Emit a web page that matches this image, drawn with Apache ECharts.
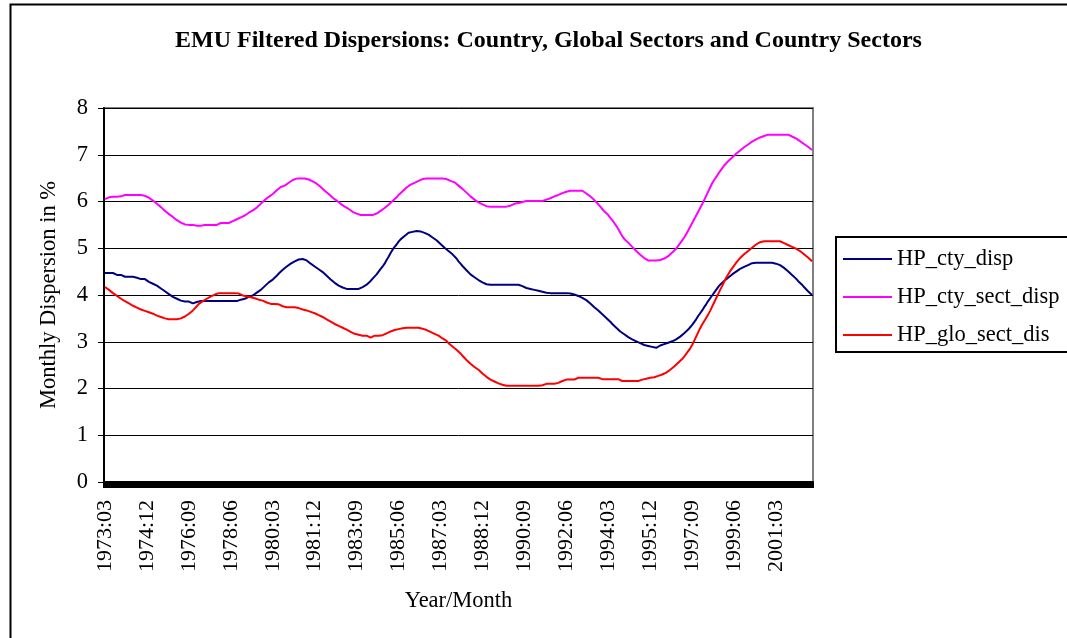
<!DOCTYPE html>
<html>
<head>
<meta charset="utf-8">
<script src="https://cdn.jsdelivr.net/npm/echarts@6/dist/echarts.min.js"></script>
<style>
  html, body { margin: 0; padding: 0; background: #fff; }
  #chart { width: 1067px; height: 638px; }
</style>
</head>
<body>
<div id="chart"></div>
<script>
// monthly categories 1973:03 .. 2002:09
const startYear = 1973;
const startMonth = 3;
const monthCount = 355;
const months = [];
for (let k = 0; k < monthCount; k++) {
  const m = startMonth - 1 + k;
  const y = startYear + Math.floor(m / 12);
  const mm = (m % 12) + 1;
  months.push(y + ':' + (mm < 10 ? '0' + mm : mm));
}

const seriesNames = ['HP_cty_disp', 'HP_cty_sect_disp', 'HP_glo_sect_dis'];

// HP_cty_disp
const ctyDisp = [
  4.47, 4.47, 4.47, 4.47, 4.47, 4.45, 4.43, 4.43, 4.43, 4.41, 4.39, 4.39,
  4.39, 4.39, 4.39, 4.39, 4.37, 4.34, 4.34, 4.34, 4.34, 4.31, 4.28, 4.26,
  4.24, 4.22, 4.20, 4.17, 4.14, 4.11, 4.08, 4.05, 4.02, 3.99, 3.96, 3.94,
  3.92, 3.90, 3.88, 3.86, 3.86, 3.86, 3.86, 3.84, 3.82, 3.82, 3.85, 3.87,
  3.87, 3.87, 3.87, 3.87, 3.87, 3.87, 3.87, 3.87, 3.87, 3.87, 3.87, 3.87,
  3.87, 3.87, 3.87, 3.87, 3.87, 3.87, 3.87, 3.88, 3.90, 3.91, 3.92, 3.94,
  3.96, 3.97, 3.99, 4.02, 4.05, 4.08, 4.11, 4.15, 4.19, 4.23, 4.27, 4.30,
  4.33, 4.37, 4.41, 4.46, 4.50, 4.54, 4.57, 4.61, 4.64, 4.67, 4.70, 4.72,
  4.74, 4.76, 4.77, 4.77, 4.76, 4.74, 4.71, 4.67, 4.64, 4.61, 4.58, 4.55,
  4.52, 4.49, 4.45, 4.41, 4.37, 4.33, 4.29, 4.26, 4.23, 4.20, 4.18, 4.16,
  4.14, 4.13, 4.13, 4.13, 4.13, 4.13, 4.13, 4.13, 4.15, 4.17, 4.19, 4.22,
  4.26, 4.30, 4.35, 4.39, 4.44, 4.50, 4.56, 4.61, 4.67, 4.75, 4.82, 4.90,
  4.97, 5.03, 5.08, 5.14, 5.19, 5.23, 5.26, 5.30, 5.33, 5.34, 5.35, 5.36,
  5.37, 5.37, 5.36, 5.35, 5.33, 5.31, 5.29, 5.26, 5.23, 5.20, 5.17, 5.13,
  5.09, 5.05, 5.01, 4.97, 4.94, 4.90, 4.87, 4.83, 4.78, 4.72, 4.67, 4.62,
  4.58, 4.53, 4.49, 4.44, 4.41, 4.38, 4.35, 4.32, 4.29, 4.27, 4.25, 4.23,
  4.22, 4.22, 4.22, 4.22, 4.22, 4.22, 4.22, 4.22, 4.22, 4.22, 4.22, 4.22,
  4.22, 4.22, 4.22, 4.22, 4.21, 4.19, 4.17, 4.15, 4.13, 4.13, 4.12, 4.11,
  4.10, 4.09, 4.08, 4.07, 4.06, 4.05, 4.04, 4.04, 4.04, 4.04, 4.04, 4.04,
  4.04, 4.04, 4.04, 4.04, 4.04, 4.03, 4.02, 4.01, 4.00, 3.98, 3.96, 3.94,
  3.92, 3.89, 3.86, 3.82, 3.78, 3.74, 3.70, 3.67, 3.63, 3.59, 3.55, 3.51,
  3.47, 3.43, 3.38, 3.34, 3.30, 3.26, 3.22, 3.19, 3.16, 3.13, 3.10, 3.07,
  3.05, 3.03, 3.01, 2.99, 2.97, 2.95, 2.93, 2.92, 2.91, 2.90, 2.89, 2.88,
  2.87, 2.90, 2.92, 2.93, 2.95, 2.96, 2.98, 2.99, 3.01, 3.03, 3.05, 3.08,
  3.11, 3.14, 3.18, 3.22, 3.26, 3.31, 3.36, 3.42, 3.48, 3.55, 3.61, 3.67,
  3.74, 3.80, 3.87, 3.93, 3.99, 4.05, 4.11, 4.17, 4.22, 4.26, 4.30, 4.34,
  4.37, 4.40, 4.44, 4.47, 4.50, 4.53, 4.56, 4.58, 4.60, 4.62, 4.64, 4.66,
  4.68, 4.69, 4.69, 4.69, 4.69, 4.69, 4.69, 4.69, 4.69, 4.69, 4.69, 4.68,
  4.67, 4.66, 4.64, 4.61, 4.58, 4.55, 4.51, 4.47, 4.43, 4.39, 4.35, 4.30,
  4.26, 4.22, 4.17, 4.13, 4.08, 4.04, 4.00
];

// HP_cty_sect_disp
const ctySectDisp = [
  6.05, 6.07, 6.09, 6.10, 6.10, 6.10, 6.10, 6.10, 6.11, 6.14, 6.14, 6.14,
  6.14, 6.14, 6.14, 6.14, 6.14, 6.14, 6.14, 6.13, 6.12, 6.10, 6.08, 6.05,
  6.02, 5.98, 5.95, 5.91, 5.88, 5.84, 5.80, 5.77, 5.73, 5.70, 5.67, 5.64,
  5.60, 5.57, 5.55, 5.53, 5.51, 5.50, 5.50, 5.50, 5.50, 5.49, 5.48, 5.46,
  5.48, 5.50, 5.50, 5.50, 5.50, 5.50, 5.50, 5.50, 5.50, 5.52, 5.54, 5.54,
  5.54, 5.54, 5.54, 5.56, 5.58, 5.60, 5.62, 5.64, 5.66, 5.68, 5.70, 5.73,
  5.76, 5.79, 5.81, 5.84, 5.87, 5.91, 5.95, 5.99, 6.03, 6.06, 6.10, 6.13,
  6.16, 6.20, 6.24, 6.28, 6.31, 6.33, 6.34, 6.37, 6.40, 6.43, 6.46, 6.49,
  6.49, 6.49, 6.49, 6.49, 6.49, 6.49, 6.47, 6.45, 6.43, 6.41, 6.38, 6.34,
  6.31, 6.27, 6.23, 6.19, 6.16, 6.12, 6.08, 6.05, 6.02, 5.99, 5.95, 5.92,
  5.89, 5.86, 5.84, 5.81, 5.78, 5.76, 5.74, 5.72, 5.71, 5.71, 5.71, 5.71,
  5.71, 5.71, 5.71, 5.71, 5.74, 5.77, 5.80, 5.83, 5.86, 5.89, 5.93, 5.96,
  6.01, 6.05, 6.09, 6.14, 6.18, 6.22, 6.26, 6.30, 6.34, 6.36, 6.38, 6.40,
  6.42, 6.44, 6.46, 6.48, 6.49, 6.49, 6.49, 6.49, 6.49, 6.49, 6.49, 6.49,
  6.49, 6.49, 6.49, 6.48, 6.46, 6.44, 6.42, 6.41, 6.38, 6.34, 6.31, 6.27,
  6.23, 6.19, 6.15, 6.11, 6.07, 6.04, 6.01, 5.98, 5.96, 5.94, 5.92, 5.90,
  5.89, 5.89, 5.89, 5.89, 5.89, 5.89, 5.89, 5.89, 5.89, 5.89, 5.89, 5.91,
  5.93, 5.95, 5.96, 5.97, 5.98, 5.99, 6.00, 6.01, 6.01, 6.01, 6.01, 6.01,
  6.01, 6.01, 6.01, 6.01, 6.03, 6.04, 6.06, 6.07, 6.09, 6.11, 6.13, 6.14,
  6.16, 6.18, 6.20, 6.21, 6.23, 6.23, 6.23, 6.23, 6.23, 6.23, 6.23, 6.23,
  6.20, 6.17, 6.15, 6.11, 6.07, 6.03, 5.99, 5.94, 5.89, 5.84, 5.79, 5.75,
  5.71, 5.65, 5.60, 5.54, 5.48, 5.41, 5.33, 5.26, 5.20, 5.16, 5.12, 5.08,
  5.03, 4.99, 4.94, 4.90, 4.86, 4.82, 4.79, 4.76, 4.74, 4.74, 4.74, 4.74,
  4.74, 4.74, 4.75, 4.76, 4.78, 4.80, 4.83, 4.87, 4.91, 4.95, 4.99, 5.05,
  5.11, 5.17, 5.23, 5.30, 5.38, 5.46, 5.54, 5.62, 5.70, 5.78, 5.86, 5.94,
  6.03, 6.12, 6.21, 6.30, 6.39, 6.46, 6.52, 6.59, 6.65, 6.71, 6.77, 6.81,
  6.86, 6.90, 6.94, 6.98, 7.02, 7.05, 7.09, 7.12, 7.16, 7.19, 7.22, 7.25,
  7.28, 7.30, 7.33, 7.35, 7.37, 7.39, 7.40, 7.42, 7.43, 7.43, 7.43, 7.43,
  7.43, 7.43, 7.43, 7.43, 7.43, 7.43, 7.43, 7.41, 7.39, 7.37, 7.35, 7.32,
  7.29, 7.26, 7.23, 7.20, 7.17, 7.14, 7.10
];

// HP_glo_sect_dis
const gloSectDis = [
  4.17, 4.14, 4.11, 4.07, 4.04, 4.01, 3.98, 3.95, 3.92, 3.90, 3.87, 3.84,
  3.82, 3.79, 3.77, 3.75, 3.73, 3.71, 3.69, 3.67, 3.66, 3.64, 3.63, 3.61,
  3.60, 3.58, 3.56, 3.55, 3.53, 3.51, 3.50, 3.49, 3.48, 3.48, 3.48, 3.48,
  3.48, 3.48, 3.50, 3.52, 3.54, 3.57, 3.60, 3.63, 3.67, 3.71, 3.76, 3.81,
  3.84, 3.87, 3.90, 3.92, 3.95, 3.97, 3.99, 4.01, 4.03, 4.04, 4.04, 4.04,
  4.04, 4.04, 4.04, 4.04, 4.04, 4.04, 4.04, 4.03, 4.01, 3.99, 3.98, 3.97,
  3.96, 3.95, 3.94, 3.93, 3.92, 3.90, 3.89, 3.88, 3.86, 3.84, 3.82, 3.81,
  3.81, 3.81, 3.81, 3.80, 3.78, 3.76, 3.74, 3.74, 3.74, 3.74, 3.74, 3.74,
  3.74, 3.72, 3.71, 3.69, 3.68, 3.67, 3.65, 3.64, 3.63, 3.61, 3.59, 3.57,
  3.55, 3.53, 3.51, 3.48, 3.46, 3.43, 3.41, 3.38, 3.36, 3.34, 3.32, 3.30,
  3.28, 3.26, 3.24, 3.21, 3.19, 3.17, 3.16, 3.15, 3.13, 3.13, 3.13, 3.13,
  3.13, 3.09, 3.11, 3.13, 3.13, 3.13, 3.13, 3.14, 3.16, 3.18, 3.20, 3.22,
  3.24, 3.25, 3.26, 3.27, 3.28, 3.29, 3.30, 3.30, 3.30, 3.30, 3.30, 3.30,
  3.30, 3.30, 3.29, 3.28, 3.27, 3.25, 3.23, 3.21, 3.19, 3.17, 3.15, 3.13,
  3.10, 3.07, 3.05, 3.02, 2.97, 2.93, 2.90, 2.86, 2.83, 2.79, 2.75, 2.70,
  2.66, 2.61, 2.57, 2.53, 2.50, 2.46, 2.43, 2.40, 2.36, 2.32, 2.28, 2.25,
  2.22, 2.19, 2.17, 2.15, 2.13, 2.11, 2.09, 2.08, 2.07, 2.06, 2.06, 2.06,
  2.06, 2.06, 2.06, 2.06, 2.06, 2.06, 2.06, 2.06, 2.06, 2.06, 2.06, 2.06,
  2.06, 2.06, 2.06, 2.07, 2.10, 2.10, 2.10, 2.10, 2.10, 2.10, 2.10, 2.12,
  2.14, 2.16, 2.19, 2.19, 2.19, 2.19, 2.19, 2.19, 2.21, 2.23, 2.23, 2.23,
  2.23, 2.23, 2.23, 2.23, 2.23, 2.23, 2.23, 2.23, 2.21, 2.20, 2.20, 2.20,
  2.20, 2.20, 2.20, 2.20, 2.20, 2.20, 2.16, 2.16, 2.16, 2.16, 2.16, 2.16,
  2.16, 2.16, 2.16, 2.16, 2.18, 2.19, 2.20, 2.21, 2.22, 2.23, 2.23, 2.24,
  2.25, 2.27, 2.28, 2.30, 2.32, 2.34, 2.37, 2.40, 2.43, 2.47, 2.51, 2.55,
  2.59, 2.63, 2.68, 2.74, 2.80, 2.86, 2.93, 3.02, 3.11, 3.20, 3.29, 3.37,
  3.44, 3.51, 3.58, 3.66, 3.75, 3.84, 3.93, 4.02, 4.11, 4.19, 4.28, 4.37,
  4.44, 4.51, 4.57, 4.63, 4.69, 4.74, 4.79, 4.83, 4.87, 4.91, 4.94, 4.97,
  5.01, 5.04, 5.08, 5.11, 5.13, 5.15, 5.15, 5.15, 5.15, 5.15, 5.15, 5.15,
  5.15, 5.15, 5.15, 5.13, 5.11, 5.09, 5.07, 5.05, 5.03, 5.01, 4.99, 4.97,
  4.94, 4.90, 4.87, 4.84, 4.80, 4.76, 4.72
];

const seriesColors = ['#000080', '#FF00FF', '#FF0000'];
const font = 'Liberation Serif';

const chart = echarts.init(document.getElementById('chart'), null, { renderer: 'canvas' });

function lineSeries(name, data, color) {
  return {
    name: name,
    type: 'line',
    data: data,
    symbol: 'none',
    smooth: false,
    lineStyle: { color: color, width: 2 },
    itemStyle: { color: color }
  };
}

const option = {
  animation: false,
  backgroundColor: '#ffffff',
  title: {
    text: 'EMU Filtered Dispersions: Country, Global Sectors and Country Sectors',
    left: 170,
    top: 24,
    textStyle: { fontFamily: font, fontWeight: 'bold', fontSize: 24, color: '#000' }
  },
  legend: {
    orient: 'vertical',
    left: 836,
    top: 237,
    data: seriesNames,
    icon: 'rect',
    itemWidth: 49,
    itemHeight: 2,
    itemGap: 14,
    padding: [10, 30, 5, 7],
    borderColor: '#000',
    borderWidth: 2,
    textStyle: { fontFamily: font, fontSize: 22.5, lineHeight: 24, color: '#000' }
  },
  grid: {
    left: 104,
    right: 254,
    top: 108,
    bottom: 156,
    show: true,
    borderColor: '#808080',
    borderWidth: 2
  },
  xAxis: {
    type: 'category',
    data: months,
    boundaryGap: true,
    name: 'Year/Month',
    nameLocation: 'middle',
    nameGap: 108,
    nameTextStyle: { fontFamily: font, fontSize: 22.5, color: '#000' },
    axisLine: { lineStyle: { color: '#000', width: 2 } },
    axisTick: { show: true, interval: 0, length: 6, lineStyle: { color: '#000', width: 2 } },
    axisLabel: {
      interval: 20,
      rotate: 90,
      margin: 18,
      fontFamily: font,
      fontSize: 22,
      color: '#000'
    },
    splitLine: { show: false }
  },
  yAxis: {
    type: 'value',
    min: 0,
    max: 8,
    interval: 1,
    name: 'Monthly Dispersion in %',
    nameLocation: 'middle',
    nameGap: 43,
    nameTextStyle: { fontFamily: font, fontSize: 22.5, color: '#000' },
    axisLine: { show: true, lineStyle: { color: '#000', width: 2 } },
    axisTick: { show: true, length: 6, lineStyle: { color: '#000', width: 1 } },
    axisLabel: { margin: 16, fontFamily: font, fontSize: 22.5, color: '#000' },
    splitLine: { lineStyle: { color: '#000', width: 1 } }
  },
  series: [
    lineSeries(seriesNames[0], ctyDisp, seriesColors[0]),
    lineSeries(seriesNames[1], ctySectDisp, seriesColors[1]),
    lineSeries(seriesNames[2], gloSectDis, seriesColors[2])
  ],
  graphic: [{
    type: 'rect',
    left: 8,
    top: 2,
    shape: { width: 1080, height: 650 },
    style: { fill: 'none', stroke: '#000', lineWidth: 2 },
    silent: true
  }]
};

chart.setOption(option);
</script>
</body>
</html>
